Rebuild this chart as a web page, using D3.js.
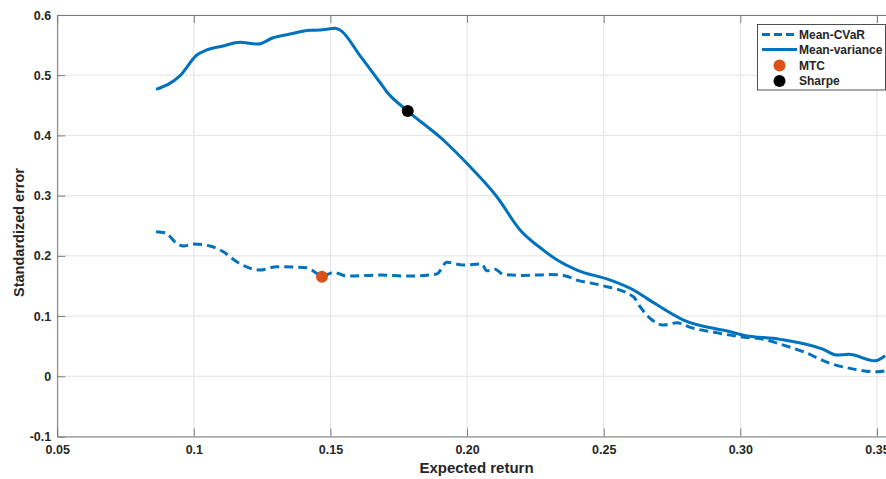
<!DOCTYPE html>
<html><head><meta charset="utf-8">
<script src="https://cdn.jsdelivr.net/npm/d3@7"></script>
<style>html,body{margin:0;padding:0;background:#fff;overflow:hidden}</style>
</head><body><svg id="c" width="886" height="479"></svg>
<script>
const xTicks = [0.05, 0.1, 0.15, 0.2, 0.25, 0.3, 0.35];
const xTickLabels = ["0.05", "0.1", "0.15", "0.20", "0.25", "0.30", "0.35"];
const yTicks = [-0.1, 0, 0.1, 0.2, 0.3, 0.4, 0.5, 0.6];
const yTickLabels = ["-0.1", "0", "0.1", "0.2", "0.3", "0.4", "0.5", "0.6"];
const seriesNames = ["Mean-CVaR", "Mean-variance", "MTC", "Sharpe"];

const mvX = [0.0862,0.0950,0.1011,0.1047,0.1107,0.1169,0.1235,0.1290,0.1352,0.1425,0.1462,0.1517,0.1535,0.1608,0.1682,0.1706,0.1783,0.1913,0.1999,0.2109,0.2194,0.2279,0.2330,0.2402,0.2524,0.2609,0.2658,0.2792,0.2963,0.3011,0.3146,0.3304,0.3353,0.3396,0.3493,0.3530];
const mvY = [0.4766,0.4992,0.5336,0.5419,0.5485,0.5547,0.5518,0.5623,0.5684,0.5746,0.5751,0.5779,0.5751,0.5326,0.4875,0.4726,0.4405,0.3924,0.3537,0.2982,0.2430,0.2096,0.1930,0.1764,0.1598,0.1432,0.1294,0.0934,0.0739,0.0684,0.0613,0.0447,0.0352,0.0364,0.0257,0.0340];

const cvX = [0.0862,0.0895,0.0937,0.0962,0.0998,0.1059,0.1108,0.1157,0.1242,0.1303,0.1413,0.1450,0.1469,0.1511,0.1560,0.1682,0.1779,0.1889,0.1926,0.1986,0.2054,0.2072,0.2102,0.2133,0.2206,0.2304,0.2353,0.2402,0.2487,0.2609,0.2633,0.2670,0.2719,0.2768,0.2817,0.2914,0.3000,0.3085,0.3158,0.3231,0.3329,0.3402,0.3500,0.3530];
const cvY = [0.2400,0.2384,0.2208,0.2163,0.2196,0.2163,0.2068,0.1902,0.1764,0.1819,0.1802,0.1709,0.1653,0.1726,0.1664,0.1681,0.1664,0.1698,0.1892,0.1847,0.1864,0.1752,0.1776,0.1693,0.1675,0.1690,0.1675,0.1598,0.1515,0.1321,0.1155,0.0962,0.0850,0.0889,0.0812,0.0723,0.0656,0.0613,0.0518,0.0407,0.0214,0.0131,0.0075,0.0091];

const mtcPoint = [0.1469, 0.1653];
const sharpePoint = [0.1783, 0.4405];

const blue = "#0072BD", orange = "#D95319", axisCol = "#7a7a7a", textCol = "#262626";
const svg = d3.select("#c");
const L = 57.2, T = 15, B = 436.5;
const x = d3.scaleLinear().domain([0.05, 0.3535]).range([L, 886.5]);
const y = d3.scaleLinear().domain([-0.1, 0.6]).range([B, T]);
const font = "'Liberation Sans', Arial, sans-serif";

svg.append("defs").append("clipPath").attr("id","pc")
  .append("rect").attr("x", L).attr("y", T).attr("width", 886 - L).attr("height", B - T);

// grid
const g = svg.append("g");
g.selectAll(".gx").data(xTicks).join("line")
  .attr("x1", d => x(d)).attr("x2", d => x(d)).attr("y1", T).attr("y2", B)
  .attr("stroke", "#e3e3e3").attr("stroke-width", 1);
g.selectAll(".gy").data(yTicks).join("line")
  .attr("x1", L).attr("x2", 886).attr("y1", d => y(d)).attr("y2", d => y(d))
  .attr("stroke", "#e3e3e3").attr("stroke-width", 1);

// axes
const xAxis = d3.axisBottom(x).tickValues(xTicks).tickFormat((d,i) => xTickLabels[i]).tickSizeInner(-8).tickSizeOuter(0).tickPadding(6);
const ax = svg.append("g").attr("transform", `translate(0,${B})`).call(xAxis);
const xTop = d3.axisTop(x).tickValues(xTicks).tickFormat("").tickSizeInner(-8).tickSizeOuter(0);
const axt = svg.append("g").attr("transform", `translate(0,${T})`).call(xTop);
const yAxis = d3.axisLeft(y).tickValues(yTicks).tickFormat((d,i) => yTickLabels[i]).tickSizeInner(-8).tickSizeOuter(0).tickPadding(6);
const ay = svg.append("g").attr("transform", `translate(${L},0)`).call(yAxis);
[ax, axt, ay].forEach(a => {
  a.select(".domain").attr("stroke", axisCol);
  a.selectAll(".tick line").attr("stroke", axisCol);
  a.selectAll("text").attr("fill", textCol).style("font-family", font).style("font-size", "12.5px").style("font-weight", "bold");
});
ax.selectAll("text").attr("dy", "0.9em");

// lines
const line = d3.line().x(d => x(d[0])).y(d => y(d[1])).curve(d3.curveMonotoneX);
const mv = mvX.map((v,i) => [v, mvY[i]]);
const cv = cvX.map((v,i) => [v, cvY[i]]);
const pg = svg.append("g").attr("clip-path", "url(#pc)");
pg.append("path").datum(cv).attr("d", line).attr("fill","none").attr("stroke", blue).attr("stroke-width", 3).attr("stroke-dasharray", "9,5");
pg.append("path").datum(mv).attr("d", line).attr("fill","none").attr("stroke", blue).attr("stroke-width", 3);
svg.append("circle").attr("cx", x(mtcPoint[0])).attr("cy", y(mtcPoint[1])).attr("r", 6).attr("fill", orange);
svg.append("circle").attr("cx", x(sharpePoint[0])).attr("cy", y(sharpePoint[1])).attr("r", 6).attr("fill", "#000");

// labels
svg.append("text").attr("x", 476.5).attr("y", 473).attr("text-anchor","middle")
  .attr("fill", textCol).style("font-family", font).style("font-size","15px").style("font-weight","bold").text("Expected return");
svg.append("text").attr("transform","translate(24,232.5) rotate(-90)").attr("text-anchor","middle")
  .attr("fill", textCol).style("font-family", font).style("font-size","14.5px").style("font-weight","bold").text("Standardized error");

// legend
const lg = svg.append("g");
lg.append("rect").attr("x", 757.5).attr("y", 24.5).attr("width", 128).attr("height", 65.5).attr("fill","#fff").attr("stroke", "#262626").attr("stroke-width", 0.8);
const ly = [34.5, 49.5, 65.5, 81];
seriesNames.forEach((n,i) => {
  if (i < 2) {
    lg.append("line").attr("x1", 762).attr("x2", 797).attr("y1", ly[i]).attr("y2", ly[i])
      .attr("stroke", blue).attr("stroke-width", 3).attr("stroke-dasharray", i === 0 ? "8,4" : null);
  } else {
    lg.append("circle").attr("cx", 779.5).attr("cy", ly[i]).attr("r", 6).attr("fill", i === 2 ? orange : "#000");
  }
  lg.append("text").attr("x", 799).attr("y", ly[i]).attr("dy", "0.35em").attr("fill", textCol)
    .style("font-family", font).style("font-size","12px").style("font-weight","bold").text(n);
});
</script></body></html>
